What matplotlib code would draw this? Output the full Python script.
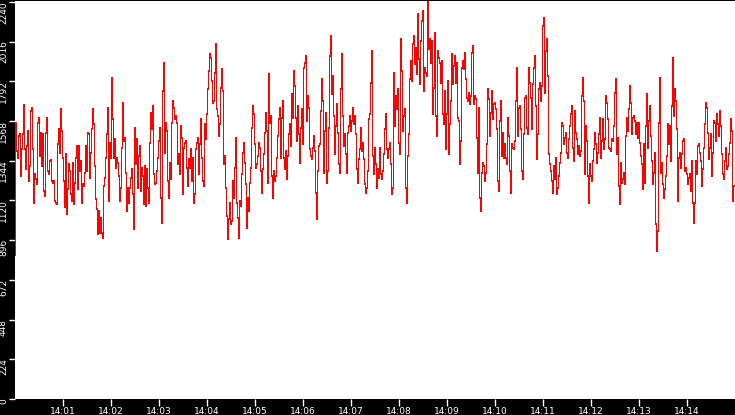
import numpy as np
import pandas as pd
import matplotlib
matplotlib.use("Agg")
import matplotlib.pyplot as plt
import matplotlib.dates as mdates
import matplotlib.transforms as mtransforms

# values, one list per 2.5 minutes (sample every 1.25 s)
part1 = [815, 1558, 1399, 1361, 1483, 1493, 1258, 1408, 1493, 1658, 1408, 1295, 1427, 1511, 1229, 1314,
         1624, 1643, 1408, 1107, 1267, 1239, 1214, 1558, 1587, 1370, 1502, 1314, 1493, 1173, 1145, 1502,
         1587, 1286, 1267, 1342, 1348, 1229, 1220, 1229, 1116, 1107, 1098, 1436, 1521, 1389, 1634, 1511,
         1361, 1229, 1083, 1380, 1041, 1182, 1323, 1286, 1154, 1116, 1333, 1098, 1220, 1361, 1427, 1182,
         1427, 1286, 1342, 1107, 1210, 1201, 1276, 1427, 1286, 1502, 1493, 1248, 1389, 1521, 1634, 1549,
         1314, 1126, 1069, 928, 1060, 938, 1022, 938, 910, 1201, 1248, 1361, 1493, 1643, 1116, 1446,
         1361, 1812, 1577, 1361, 1464, 1305, 1361, 1333, 1258, 1116, 1192, 1417, 1671, 1455, 1474, 1276,
         1060, 1192, 1107, 1192, 1248, 1295, 1154, 957]
part2 = [1530, 1323, 1464, 1192, 1370, 1427, 1173, 1305, 1258, 1098, 1314, 1088, 1295, 1192, 1107, 1446,
         1615, 1521, 1652, 1267, 1210, 1220, 1286, 1361, 1455, 1530, 1135, 994, 1737, 1897, 1389, 1558,
         1511, 1229, 1135, 1333, 1239, 1558, 1681, 1643, 1577, 1596, 1558, 1323, 1380, 1267, 1540, 1474,
         1154, 1417, 1446, 1455, 1305, 1201, 1352, 1305, 1408, 1229, 1361, 1107, 1154, 1408, 1446, 1474,
         1267, 1436, 1577, 1361, 1229, 1201, 1549, 1464, 1605, 1747, 1850, 1944, 1925, 1794, 1671, 1681,
         1841, 2000, 1634, 1596, 1483, 1549, 1756, 1859, 1737, 1323, 1370, 1192, 1032, 900, 1013, 1107,
         985, 1004, 1229, 1135, 1305, 1474, 1107, 1022, 910, 1116, 1088, 1267, 1389, 1446, 1333, 1210,
         966, 1135, 1060, 1220, 1305, 1530, 1652, 1605]
part3 = [1436, 1305, 1323, 1370, 1446, 1417, 1286, 1163, 1295, 1380, 1502, 1615, 1511, 1220, 1831, 1558,
         1596, 1258, 1135, 1286, 1229, 1258, 1361, 1483, 1577, 1643, 1361, 1587, 1681, 1361, 1295, 1399,
         1239, 1370, 1493, 1549, 1427, 1718, 1587, 1850, 1765, 1587, 1455, 1652, 1493, 1333, 1530, 1634,
         1436, 1869, 1897, 1935, 1568, 1709, 1643, 1408, 1370, 1352, 1417, 1483, 1399, 1163, 1013, 1286,
         1427, 1436, 1624, 1803, 1681, 1276, 1511, 1615, 1220, 1286, 1530, 1935, 2047, 1718, 1822, 1596,
         1380, 1540, 1662, 1502, 1323, 1276, 1747, 1944, 1596, 1427, 1493, 1380, 1276, 1502, 1540, 1596,
         1511, 1568, 1643, 1549, 1596, 1493, 1295, 1220, 1352, 1408, 1530, 1399, 1446, 1352, 1210, 1163,
         1192, 1286, 1577, 1605, 1784, 1963, 1370, 1267]
part4 = [1417, 1323, 1192, 1295, 1248, 1417, 1267, 1239, 1286, 1380, 1521, 1605, 1408, 1361, 1408, 1446,
         1323, 1154, 1192, 1841, 1540, 1709, 1634, 1747, 1446, 1380, 2029, 1850, 1511, 1596, 1634, 1192,
         1107, 1370, 1493, 1803, 1906, 1794, 2000, 2047, 1888, 1982, 1831, 2170, 1916, 1775, 2019, 2132,
         2189, 1737, 1869, 1841, 1822, 2240, 1972, 2029, 1897, 2019, 1605, 1756, 2066, 1596, 1483, 1963,
         1925, 1897, 1784, 1906, 1605, 1549, 1737, 1408, 1605, 1794, 1380, 1549, 1681, 1944, 1775, 1878,
         1935, 1784, 1897, 1587, 1568, 1323, 1455, 1869, 1906, 1859, 1954, 1803, 1700, 1681, 1728, 1662,
         1709, 1954, 1991, 1662, 1709, 1690, 1474, 1276, 1643, 1135, 1060, 1276, 1333, 1314, 1229, 1276,
         1436, 1747, 1690, 1483, 1615, 1737, 1577, 1662]
part5 = [1671, 1634, 1521, 1229, 1173, 1568, 1681, 1370, 1502, 1361, 1436, 1361, 1323, 1587, 1483, 1286,
         1163, 1436, 1417, 1408, 1455, 1681, 1869, 1483, 1643, 1652, 1521, 1286, 1239, 1493, 1700, 1709,
         1530, 1493, 1869, 1784, 1700, 1521, 1775, 1869, 1935, 1652, 1352, 1493, 1747, 1784, 1681, 1765,
         2104, 2151, 1728, 1963, 2029, 1822, 1380, 1323, 1286, 1229, 1163, 1314, 1239, 1361, 1154, 1192,
         1258, 1333, 1389, 1558, 1540, 1436, 1474, 1502, 1389, 1361, 1464, 1540, 1605, 1652, 1417, 1342,
         1624, 1502, 1464, 1380, 1427, 1370, 1399, 1709, 1812, 1681, 1267, 1540, 1455, 1258, 1107, 1323,
         1258, 1229, 1342, 1408, 1502, 1436, 1333, 1389, 1493, 1587, 1361, 1455, 1577, 1408, 1464, 1709,
         1671, 1577, 1417, 1408, 1399, 1464, 1455, 1540]
part6 = [1728, 1803, 1380, 1474, 1201, 1098, 1333, 1220, 1239, 1276, 1210, 1483, 1587, 1511, 1634, 1765,
         1671, 1493, 1587, 1596, 1568, 1493, 1558, 1474, 1558, 1446, 1370, 1323, 1182, 1436, 1220, 1540,
         1718, 1417, 1568, 1652, 1483, 1342, 1210, 1276, 1389, 985, 834, 947, 1558, 1812, 1276, 1333,
         1210, 1135, 1182, 1258, 1370, 1549, 1436, 1540, 1342, 1652, 1925, 1596, 1747, 1681, 1521, 1116,
         1361, 1389, 1305, 1380, 1455, 1464, 1286, 1305, 1267, 1210, 1248, 1267, 1173, 1342, 1107, 994,
         1107, 1342, 1267, 1427, 1436, 1389, 1342, 1201, 1295, 1417, 1549, 1671, 1643, 1502, 1352, 1417,
         1493, 1258, 1389, 1568, 1558, 1455, 1605, 1549, 1483, 1624, 1540, 1380, 1267, 1239, 1342, 1417,
         1295, 1314, 1380, 1446, 1577, 1511, 1116, 1201]

values = part1 + part2 + part3 + part4 + part5 + part6
times = pd.date_range("2024-01-01 14:00:00", periods=len(values), freq="1250ms")

y_ticks = [0, 224, 448, 672, 896, 1120, 1344, 1568, 1792, 2016, 2240]
x_ticks = pd.date_range("2024-01-01 14:01:00", "2024-01-01 14:14:00", freq="1min")

fig = plt.figure(figsize=(7.35, 4.15), dpi=100, facecolor="black")
ax = fig.add_axes([15 / 735, 16 / 415, 720 / 735, 398 / 415])
ax.set_facecolor("white")

# stepped trace, crisp like the original
ax.plot(times, values, color="red", linewidth=0.72, drawstyle="steps-mid", antialiased=False)

ax.set_xlim(pd.Timestamp("2024-01-01 14:00:00"), pd.Timestamp("2024-01-01 14:15:00"))
ax.set_ylim(0, 2245)
ax.set_yticks(y_ticks)
ax.set_xticks(x_ticks)
ax.xaxis.set_major_formatter(mdates.DateFormatter("%H:%M"))

for s in ax.spines.values():
    s.set_visible(False)

ax.tick_params(axis="both", colors="white", labelsize=6.5, width=1)
ax.tick_params(axis="x", pad=0.5, length=5)
ax.tick_params(axis="y", pad=1, length=4)

shift = mtransforms.ScaledTranslation(0, 1 / 100, fig.dpi_scale_trans)
for lab in ax.get_yticklabels():
    lab.set_rotation(90)
    lab.set_va("top")
    lab.set_transform(lab.get_transform() + shift)

fig.savefig("out.png", dpi=100, facecolor="black")
